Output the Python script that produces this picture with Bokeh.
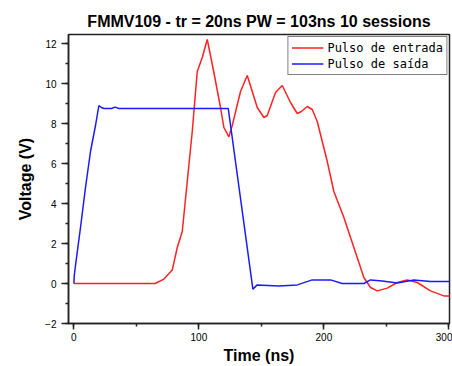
from bokeh.plotting import figure
from bokeh.models import Range1d, SingleIntervalTicker, Legend, LegendItem
from bokeh.embed import file_html
from bokeh.resources import INLINE

# Data
t_out = [0, 0.3, 1.5, 5.3, 9.3, 13.3, 17.3, 20, 22, 24, 30, 33, 36, 123.5,
         143.2, 146.7, 164, 178.7, 190.7, 205.3, 214.7, 232, 237.3, 246.7,
         258.7, 272, 285.3, 301]
v_out = [0, 0.4, 1.0, 2.8, 4.8, 6.6, 7.9, 8.9, 8.8, 8.75, 8.75, 8.82, 8.75,
         8.75, -0.28, -0.07, -0.12, -0.07, 0.18, 0.18, 0.0, 0.0, 0.18, 0.13,
         0.02, 0.18, 0.1, 0.1]

t_in = [0, 65, 72, 78.7, 82.7, 86.7, 90.7, 94.7, 98.7, 102.7, 106.7, 112,
        117.3, 120, 124, 126.7, 133.3, 138.7, 146.7, 152, 154.7, 161.3, 166.7,
        173.3, 178.7, 182, 186.7, 190.7, 194.7, 202.7, 208, 216, 224, 232,
        237.3, 242.7, 250.7, 258.7, 266.7, 274.7, 285.3, 296, 301]
v_in = [0, 0, 0.22, 0.67, 1.8, 2.6, 5.1, 7.6, 10.6, 11.3, 12.2, 10.55, 8.8,
        7.8, 7.33, 7.9, 9.6, 10.4, 8.8, 8.3, 8.4, 9.55, 9.9, 9.05, 8.5, 8.6,
        8.85, 8.7, 8.1, 6.1, 4.6, 3.3, 1.8, 0.3, -0.2, -0.37, -0.23, 0.05,
        0.18, 0.05, -0.37, -0.62, -0.62]

title_text = "FMMV109 - tr = 20ns PW = 103ns 10 sessions"
x_label = "Time (ns)"
y_label = "Voltage (V)"
name_in = "Pulso de entrada"
name_out = "Pulso de saída"

FONT = "Liberation Sans"

p = figure(width=452, height=366, output_backend="svg", toolbar_location=None,
           x_range=Range1d(-4.3, 300.5), y_range=Range1d(-2, 12.45),
           min_border_left=68, min_border_right=3, min_border_top=34,
           min_border_bottom=43)
p.background_fill_color = "white"
p.border_fill_color = "white"
p.outline_line_color = "#222222"
p.outline_line_width = 1.5
p.grid.visible = False

p.title.text = title_text
p.title.align = "center"
p.title.text_font = FONT
p.title.text_font_size = "16px"
p.title.text_font_style = "bold"
p.title.text_color = "black"

r_in = p.line(t_in, v_in, line_color="#ff2222", line_width=1.5)
r_out = p.line(t_out, v_out, line_color="#1a1aff", line_width=1.5)

p.xaxis.ticker = SingleIntervalTicker(interval=100, num_minor_ticks=2)
p.yaxis.ticker = SingleIntervalTicker(interval=2, num_minor_ticks=2)
for ax in (p.xaxis[0], p.yaxis[0]):
    ax.axis_line_color = "#222222"
    ax.axis_line_width = 1.5
    ax.major_tick_line_color = "#222222"
    ax.minor_tick_line_color = "#222222"
    ax.major_tick_line_width = 1.5
    ax.minor_tick_line_width = 1.5
    ax.major_tick_in = 0
    ax.minor_tick_in = 0
    ax.major_label_text_font = FONT
    ax.major_label_text_font_size = "10px"
    ax.major_label_text_color = "black"
    ax.axis_label_text_font = FONT
    ax.axis_label_text_font_size = "16px"
    ax.axis_label_text_font_style = "bold"
    ax.axis_label_text_color = "black"
p.xaxis.major_tick_out = 6
p.xaxis.minor_tick_out = 3
p.yaxis.major_tick_out = 7
p.yaxis.minor_tick_out = 3
p.xaxis.major_label_standoff = 3
p.yaxis.major_label_standoff = 5
p.xaxis.axis_label = x_label
p.yaxis.axis_label = y_label
p.xaxis.axis_label_standoff = 3
p.yaxis.axis_label_standoff = 8

legend = Legend(items=[LegendItem(label=name_in, renderers=[r_in]),
                       LegendItem(label=name_out, renderers=[r_out])],
                location="top_right", margin=2, padding=3, spacing=1,
                glyph_width=32, glyph_height=15, label_height=15,
                label_standoff=4, label_text_font="DejaVu Sans Mono",
                label_text_font_size="12px", label_text_color="black",
                border_line_color="black", border_line_width=1.5,
                background_fill_color="white", background_fill_alpha=1.0)
p.add_layout(legend)

open("out.html", "w").write(file_html(p, INLINE))
